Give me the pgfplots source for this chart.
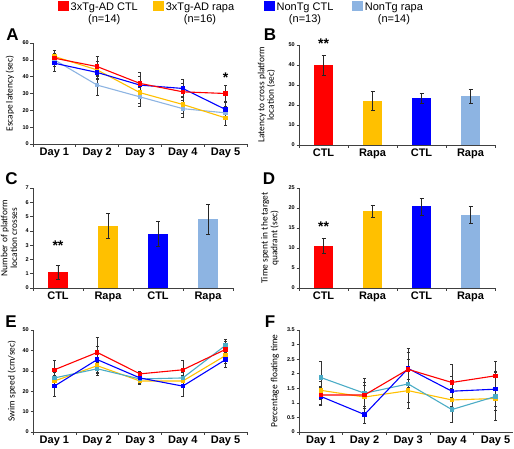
\documentclass[border=0pt]{standalone}
\usepackage{pgfplots}
\pgfplotsset{compat=1.18}
\usepackage{fontspec}
\setmainfont{Liberation Sans}
\newfontfamily\calib{Carlito}
\definecolor{cRed}{HTML}{FF0000}
\definecolor{cYel}{HTML}{FFC000}
\definecolor{cBlu}{HTML}{0000FF}
\definecolor{cLb}{HTML}{8DB4E2}
\definecolor{cTeal}{HTML}{4BACC6}
\definecolor{axc}{HTML}{404040}
\pgfplotsset{
  panel/.style={
    scale only axis, anchor=south west, clip=false,
    axis x line*=bottom, axis y line*=left,
    axis line style={-, axc, line width=0.6pt},
    tick style={axc, line width=0.6pt},
    tick align=outside, major tick length=2.5pt,
    /pgf/number format/assume math mode=true,
    yticklabel style={font=\fontsize{5.5}{6}\selectfont\bfseries, inner xsep=1.5pt},
    xticklabel style={font=\fontsize{11}{12}\selectfont\bfseries},
    ylabel style={font=\calib\fontsize{9.4}{9.6}\selectfont, align=center, anchor=center},
    xticklabels={},
    extra x tick style={major tick length=0pt},
  },
  days/.style={xmin=0.5, xmax=5.5, xtick={0.5,1.5,...,5.5},
    extra x ticks={1,2,3,4,5}, extra x tick labels={Day 1,Day 2,Day 3,Day 4,Day 5}},
  cats/.style={xmin=0.5, xmax=4.5, xtick={0.5,1.5,...,4.5},
    extra x ticks={1,2,3,4}, extra x tick labels={CTL,Rapa,CTL,Rapa}},
  ln/.style={line width=1.1pt, color=#1, mark=square*, mark size=1.7pt, mark options={fill=#1, draw=#1},
    error bars/y dir=both, error bars/y explicit, error bars/error bar style={black!80, line width=0.45pt},
    error bars/error mark options={rotate=90, mark size=1.5pt, black!80, line width=0.45pt}},
  br/.style={ybar, bar shift=0pt, fill=#1, draw=none,
    error bars/y dir=both, error bars/y explicit, error bars/error bar style={black!85, line width=0.5pt},
    error bars/error mark options={rotate=90, mark size=2pt, black!85, line width=0.5pt}},
  sq/.style={legend image code/.code={\fill[#1] (0pt,2.7pt) rectangle (9.5pt,11.7pt);}},
  lgd/.style={legend style={draw=none, fill=none, inner sep=0pt, legend columns=2,
    font=\fontsize{11}{12}\selectfont, nodes={align=center, inner xsep=0pt, inner ysep=0pt},
    /tikz/every odd column/.style={column sep=2.5pt},
    /tikz/every even column/.style={column sep=#1}}, legend cell align=left},
}
\begin{document}
\begin{tikzpicture}
\useasboundingbox (0,0) rectangle (514pt,-448pt);
% ---------- A ----------
\begin{axis}[panel, days, at={(33pt,-144pt)}, width=214pt, height=101pt,
  ymin=0, ymax=60, ytick={0,10,...,60},
  ylabel={Escape latency (sec)}, ylabel style={at={(axis description cs:-0.1075,0.5)}},
  lgd=15.5pt, legend style={at={(axis description cs:0.117,1.416)}, anchor=north west}]
\addlegendimage{sq=cRed}
\addlegendentry{3xTg-AD CTL\\(n=14)}
\addlegendimage{sq=cYel}
\addlegendentry{3xTg-AD rapa\\(n=16)}
\addplot[ln=cLb] coordinates {(1,50) +- (0,4) (2,35) +- (0,6) (3,28) +- (0,5.5) (4,21) +- (0,5) (5,18.5) +- (0,4)};
\addplot[ln=cYel] coordinates {(1,52) +- (0,3.5) (2,44) +- (0,5) (3,30.5) +- (0,6) (4,23.5) +- (0,5) (5,15.5) +- (0,4.5)};
\addplot[ln=cBlu] coordinates {(1,48) +- (0,5) (2,42.5) +- (0,4) (3,35) +- (0,5) (4,33) +- (0,5.5) (5,20.5) +- (0,5)};
\addplot[ln=cRed] coordinates {(1,51) +- (0,4.5) (2,46) +- (0,6) (3,36) +- (0,6.5) (4,31) +- (0,5) (5,30) +- (0,5)};
\node[font=\fontsize{14}{14}\selectfont\bfseries] at (axis cs:5,39.5) {*};
\end{axis}
\node[font=\fontsize{17}{17}\selectfont\bfseries, anchor=base] at (12.5pt,-40pt) {A};
% ---------- B ----------
\begin{axis}[panel, cats, at={(299pt,-145pt)}, width=196pt, height=100pt,
  ymin=0, ymax=50, ytick={0,10,...,50},
  ylabel={Latency to cross platform\\location (sec)}, ylabel style={at={(axis description cs:-0.166,0.5)}},
  lgd=19pt, legend style={at={(axis description cs:-0.1786,1.44)}, anchor=north west}]
\addlegendimage{sq=cBlu}
\addlegendentry{NonTg CTL\\(n=13)}
\addlegendimage{sq=cLb}
\addlegendentry{NonTg rapa\\(n=14)}
\addplot[br=cRed, bar width=19pt] coordinates {(1,40) +- (0,5)};
\addplot[br=cYel, bar width=19pt] coordinates {(2,22.2) +- (0,4.7)};
\addplot[br=cBlu, bar width=19pt] coordinates {(3,23.3) +- (0,2.5)};
\addplot[br=cLb, bar width=19pt] coordinates {(4,24.5) +- (0,3.6)};
\node[font=\fontsize{14}{14}\selectfont\bfseries] at (axis cs:1,50.5) {**};
\end{axis}
\node[font=\fontsize{17}{17}\selectfont\bfseries, anchor=base] at (270pt,-40pt) {B};
% ---------- C ----------
\begin{axis}[panel, cats, at={(33pt,-288pt)}, width=200pt, height=100pt,
  ymin=0, ymax=7, ytick={0,1,...,7},
  ylabel={Number of platform\\location crosses}, ylabel style={at={(axis description cs:-0.12,0.5)}}]
\addplot[br=cRed, bar width=20pt] coordinates {(1,1.1) +- (0,0.5)};
\addplot[br=cYel, bar width=20pt] coordinates {(2,4.37) +- (0,0.87)};
\addplot[br=cBlu, bar width=20pt] coordinates {(3,3.8) +- (0,0.9)};
\addplot[br=cLb, bar width=20pt] coordinates {(4,4.8) +- (0,1.05)};
\node[font=\fontsize{14}{14}\selectfont\bfseries] at (axis cs:1,2.95) {**};
\end{axis}
\node[font=\fontsize{17}{17}\selectfont\bfseries, anchor=base] at (11.5pt,-184pt) {C};
% ---------- D ----------
\begin{axis}[panel, cats, at={(299pt,-288pt)}, width=196pt, height=100pt,
  ymin=0, ymax=25, ytick={0,5,...,25},
  ylabel={Time spent in the target\\quadrant (sec)}, ylabel style={at={(axis description cs:-0.148,0.5)}}]
\addplot[br=cRed, bar width=19.5pt] coordinates {(1,10.6) +- (0,1.9)};
\addplot[br=cYel, bar width=19.5pt] coordinates {(2,19.3) +- (0,1.5)};
\addplot[br=cBlu, bar width=19.5pt] coordinates {(3,20.4) +- (0,2.1)};
\addplot[br=cLb, bar width=19.5pt] coordinates {(4,18.3) +- (0,2.2)};
\node[font=\fontsize{14}{14}\selectfont\bfseries] at (axis cs:1,15.3) {**};
\end{axis}
\node[font=\fontsize{17}{17}\selectfont\bfseries, anchor=base] at (269pt,-184pt) {D};
% ---------- E ----------
\begin{axis}[panel, days, at={(33pt,-432pt)}, width=214pt, height=102pt,
  ymin=0, ymax=50, ytick={0,10,...,50},
  ylabel={Swim speed (cm/sec)}, ylabel style={at={(axis description cs:-0.098,0.5)}}]
\addplot[ln=cYel] coordinates {(1,25) +- (0,3) (2,32.5) +- (0,3) (3,25) +- (0,1.5) (4,25) +- (0,3) (5,37.5) +- (0,4)};
\addplot[ln=cTeal] coordinates {(1,26.5) +- (0,3) (2,31) +- (0,3) (3,26) +- (0,2) (4,26.5) +- (0,3) (5,42.5) +- (0,3)};
\addplot[ln=cBlu] coordinates {(1,22.5) +- (0,5) (2,35.5) +- (0,6.5) (3,26.5) +- (0,1.5) (4,22.5) +- (0,5) (5,35.5) +- (0,3.5)};
\addplot[ln=cRed] coordinates {(1,30.5) +- (0,4.7) (2,39) +- (0,7.5) (3,28.5) +- (0,1.5) (4,30.5) +- (0,4.5) (5,40.5) +- (0,4)};
\end{axis}
\node[font=\fontsize{17}{17}\selectfont\bfseries, anchor=base] at (11pt,-327pt) {E};
% ---------- F ----------
\begin{axis}[panel, days, xmax=5.4, at={(299pt,-432pt)}, width=214pt, height=102pt,
  ymin=0, ymax=3.5, ytick={0,0.5,...,3.5},
  ylabel={Percentage floating time}, ylabel style={at={(axis description cs:-0.112,0.5)}}]
\addplot[ln=cYel] coordinates {(1,1.43) +- (0,0.3) (2,1.2) +- (0,0.4) (3,1.42) +- (0,0.4) (4,1.1) +- (0,0.4) (5,1.15) +- (0,0.4)};
\addplot[ln=cTeal] coordinates {(1,1.87) +- (0,0.56) (2,1.33) +- (0,0.52) (3,1.65) +- (0,0.85) (4,0.77) +- (0,0.42) (5,1.22) +- (0,0.82)};
\addplot[ln=cBlu] coordinates {(1,1.22) +- (0,0.3) (2,0.6) +- (0,0.3) (3,2.18) +- (0,0.7) (4,1.4) +- (0,0.5) (5,1.47) +- (0,0.6)};
\addplot[ln=cRed] coordinates {(1,1.27) +- (0,0.3) (2,1.27) +- (0,0.45) (3,2.15) +- (0,0.6) (4,1.7) +- (0,0.63) (5,1.93) +- (0,0.5)};
\end{axis}
\node[font=\fontsize{17}{17}\selectfont\bfseries, anchor=base] at (270pt,-327pt) {F};
\end{tikzpicture}
\end{document}
